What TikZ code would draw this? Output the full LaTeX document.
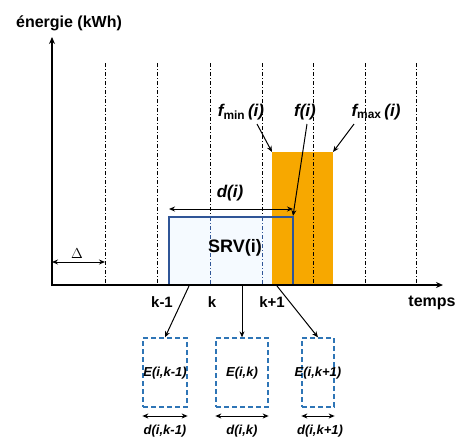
\documentclass[tikz,border=0pt]{standalone}
\usepackage{fontspec}
\setmainfont{Liberation Sans}
\usetikzlibrary{arrows.meta}
\definecolor{srvblue}{HTML}{2F5597}
\definecolor{ebox}{HTML}{2E75B6}
\definecolor{orng}{HTML}{F7A800}
\definecolor{srvfill}{HTML}{F5FAFF}
\tikzset{
  grid/.style={line width=0.9pt, dash pattern=on 4pt off 2pt on 1pt off 2pt},
  axis/.style={line width=1.3pt, -{Stealth[length=7pt,width=6pt]}},
  darr/.style={line width=1pt, {Stealth[length=6pt,width=5pt]}-{Stealth[length=6pt,width=5pt]}},
  parr/.style={line width=1pt, -{Stealth[length=6pt,width=5pt]}},
  ebx/.style={draw=ebox, line width=1.3pt, dash pattern=on 5pt off 3pt},
  lbl/.style={font=\fontsize{16}{18}\selectfont\bfseries, inner sep=1pt},
  klbl/.style={font=\fontsize{15}{17}\selectfont\bfseries, inner sep=1pt},
  slbl/.style={font=\fontsize{13}{15}\selectfont\bfseries\itshape, inner sep=1pt},
  flbl/.style={font=\fontsize{17}{19}\selectfont\bfseries\itshape, inner sep=1pt},
}
\begin{document}
\begin{tikzpicture}[x=1pt,y=-1pt]
\useasboundingbox (0,0) rectangle (458,437);
% SRV fill
\fill[srvfill] (169,217) rectangle (293,285);
% orange
\fill[orng] (272,152) rectangle (333,285);
% grid lines
\foreach \x in {105,157,313,365,416}
  \draw[grid] (\x,63) -- (\x,285);
\foreach \x in {210,262}{
  \draw[grid] (\x,63) -- (\x,217);
  \draw[grid, srvblue] (\x,217) -- (\x,285);}
% SRV box border
\node[draw=srvblue, line width=1.3pt, minimum width=124pt, minimum height=68pt, inner sep=0pt] (srv) at (231,251) {};
\node[font=\fontsize{18}{20}\selectfont\bfseries, inner sep=1pt] (srvl) at (235,248) {SRV(i)};
% axes
\coordinate (o) at (52,285);
\coordinate (ytop) at (52,37);
\coordinate (xend) at (443,285);
\draw[axis] (52,286) -- (ytop);
\draw[axis] (51.4,285) -- (xend);
\node[lbl] (ener) at (69,23) {énergie (kWh)};
\node[lbl] (temps) at (432,303) {temps};
% ticks
\node[klbl] (km1) at (162,302) {k-1};
\node[klbl] (k) at (212,302) {k};
\node[klbl] (kp1) at (272,302) {k+1};
% Delta
\coordinate (dl) at (52,262);
\coordinate (dr) at (105,262);
\draw[darr] (dl) -- (dr);
\node[font=\fontsize{15}{16}\selectfont] (delta) at (77,254) {$\Delta$};
% d(i)
\coordinate (di1) at (169,209);
\coordinate (di2) at (293,209);
\draw[darr] (di1) -- (di2);
\node[flbl] (dil) at (230,193) {d(i)};
% f labels
\node[flbl] (fmin) at (241,112) {f\textsubscript{\upshape min}\,(i)};
\node[flbl] (f) at (305,112) {f(i)};
\node[flbl] (fmax) at (376,112) {f\textsubscript{\upshape max}\,(i)};
\coordinate (fminp) at (272,152);
\coordinate (fp) at (293,216);
\coordinate (fmaxp) at (333,152);
\draw[parr] (257,124) -- (fminp);
\draw[parr] (307,124) -- (fp);
\draw[parr] (354,124) -- (fmaxp);
% bottom boxes
\node[ebx, minimum width=44pt, minimum height=69pt, inner sep=0pt] (e1) at (165,372.5) {};
\node[ebx, minimum width=52pt, minimum height=69pt, inner sep=0pt] (e2) at (242,372.5) {};
\node[ebx, minimum width=32pt, minimum height=69pt, inner sep=0pt] (e3) at (318,372.5) {};
\node[slbl] (e1l) at (165,373) {E(i,k-1)};
\node[slbl] (e2l) at (242,373) {E(i,k)};
\node[slbl] (e3l) at (318,373) {E(i,k+1)};
\coordinate (a1) at (189,286);
\coordinate (a2) at (242,286);
\coordinate (a3) at (277,286);
\draw[parr] (a1) -- (e1.north);
\draw[parr] (a2) -- (e2.north);
\draw[parr] (a3) -- (e3.north);
\draw[darr] (e1.west |- 0,416) -- (e1.east |- 0,416);
\draw[darr] (e2.west |- 0,416) -- (e2.east |- 0,416);
\draw[darr] (e3.west |- 0,416) -- (e3.east |- 0,416);
\node[slbl] (d1) at (165,431) {d(i,k-1)};
\node[slbl] (d2) at (242,431) {d(i,k)};
\node[slbl] (d3) at (320,431) {d(i,k+1)};
\end{tikzpicture}
\end{document}
